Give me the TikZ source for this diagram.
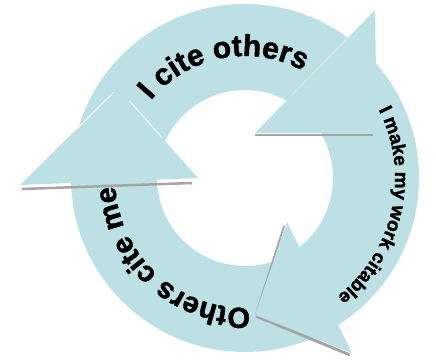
\documentclass[tikz,border=0pt]{standalone}
\usepackage{fontspec}
\setmainfont{Liberation Sans}[BoldFeatures={FakeBold=1.6}]
\usetikzlibrary{decorations.text,calc}
\definecolor{cycleblue}{RGB}{188,224,228}
\definecolor{shadowgray}{RGB}{165,165,165}

\begin{document}
\begin{tikzpicture}[x=1pt, y=1pt,
		headfill/.style={fill=cycleblue},
		shadow line/.style={shadowgray, line width=2.5pt},
		edge line/.style={white, line width=0.9pt},
		cycle text/.style={decorate, decoration={text along path, text align=center, text={#1}}}]
	\useasboundingbox (0,0) rectangle (436,359);
	\coordinate (c) at (245,181);

	% ring
	\fill[cycleblue, even odd rule] (c) circle (174) (c) circle (88);

	% corners of the three heads
	\coordinate (l1) at (20,174);	\coordinate (l2) at (198,181);	\coordinate (l3) at (118,271);
	\coordinate (t1) at (255,226);	\coordinate (t2) at (375,349);	\coordinate (t3) at (377,226);
	\coordinate (b1) at (287,137);	\coordinate (b2) at (255,44);	\coordinate (b3) at (352,6);

	\draw[shadow line]	(22,170) to (192,176);
	\draw[shadow line]	(255,224) to (373,224);
	\draw[shadow line, line width=1.8pt]	(284,133) to (256,45);
	\draw[shadow line, line width=3pt]	(256,43) to (350,4);

	\fill[headfill]	(l1) -- (l2) -- (l3) -- cycle;
	\fill[headfill]	(t1) -- (t2) -- (t3) -- cycle;
	\fill[headfill]	(b1) -- (b2) -- (b3) -- cycle;

	% head edges seen through the ring
	\draw[edge line]	($(l1)!0.55!(l3)$) to ($(l1)!0.96!(l3)$);
	\draw[edge line]	($(l2)!0.45!(l3)$) to ($(l2)!0.85!(l3)$);
	\draw[gray!20, line width=0.8pt]	($(t1)!0.3!(t2)$) to ($(t1)!0.78!(t2)$);

	% texts
	\path[cycle text={|\bfseries\fontsize{30}{30}\selectfont|I cite others}]
		([shift={(c)}]161:122) arc[start angle=161, end angle=41, radius=122];
	\path[cycle text={|\bfseries\fontsize{19}{19}\selectfont|I make my work citable}]
		([shift={(c)}]57.5:150) arc[start angle=57.5, end angle=-82.5, radius=150];
	\path[cycle text={|\bfseries\fontsize{29}{29}\selectfont|Others cite me}]
		([shift={(c)}]298:130) arc[start angle=298, end angle=158, radius=130];
\end{tikzpicture}
\end{document}
